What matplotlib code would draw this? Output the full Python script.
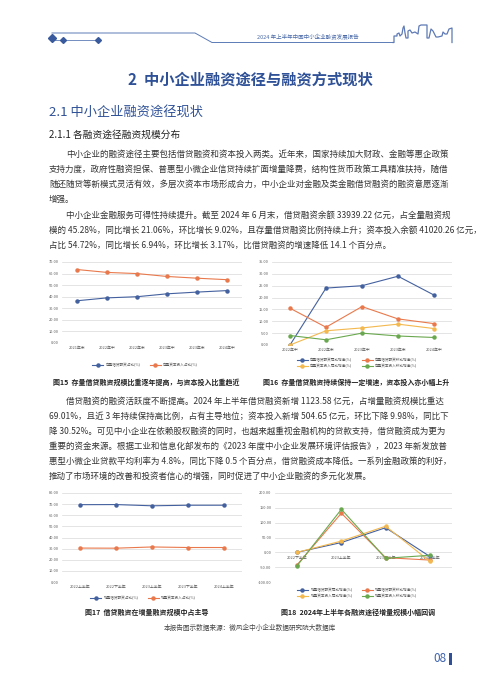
import numpy as np
import matplotlib
matplotlib.use("Agg")
import matplotlib.pyplot as plt
from matplotlib.lines import Line2D
from matplotlib.patches import Rectangle

plt.rcParams['font.family'] = ['Noto Sans CJK SC', 'DejaVu Sans']

# ---- data ----
f15_labels = ['2021年末', '2022年中', '2022年末', '2023年中', '2023年末', '2024年中']
f15_loan = [36.5, 39.0, 40.0, 42.5, 44.0, 45.28]
f15_capital = [63.5, 61.0, 60.0, 57.5, 56.0, 54.72]

f16_labels = ['2022年中', '2022年末', '2023年中', '2023年末', '2024年中']
f16_loan_yoy = [0.0, 24.0, 25.0, 29.0, 21.06]
f16_loan_qoq = [15.5, 7.5, 16.2, 11.0, 9.02]
f16_cap_yoy = [0.0, 6.0, 7.2, 8.8, 6.94]
f16_cap_qoq = [4.0, 2.2, 5.0, 3.8, 3.17]

f17_labels = ['2022上半年', '2022下半年', '2023上半年', '2023下半年', '2024上半年']
f17_loan = [69.5, 69.6, 68.5, 69.0, 69.01]
f17_capital = [30.5, 30.4, 31.5, 31.0, 30.99]

f18_labels = ['2022下半年', '2023上半年', '2023下半年', '2024上半年']
f18_loan_yoy = [0.0, 33.0, 83.0, -14.0]
f18_loan_qoq = [-42.0, 132.0, -18.0, -26.0]
f18_cap_yoy = [0.0, 38.0, 88.0, -30.52]
f18_cap_qoq = [-45.0, 145.0, -20.0, -9.98]

BLUE = '#44619f'
ORANGE = '#e9794c'
YELLOW = '#f3b84e'
GREEN = '#6aa84f'
HEAD = '#2f5197'
TXT = '#333333'

W, H = 500, 690
fig = plt.figure(figsize=(W / 100, H / 100), dpi=100)
fig.patch.set_facecolor('white')


def fx(x):
    return x / W


def fy(y):
    return 1 - y / H


def axes_px(x0, y0, x1, y1):
    return fig.add_axes([fx(x0), fy(y1), (x1 - x0) / W, (y1 - y0) / H])


# ---- header decoration ----
lc = '#5b7bb6'
fig.add_artist(Line2D([fx(52), fx(195), fx(212), fx(393)],
                      [fy(33), fy(33), fy(42.5), fy(42.5)], color=lc, lw=0.7,
                      transform=fig.transFigure))
fig.add_artist(Line2D([fx(52), fx(98)], [fy(40), fy(40)], color=lc, lw=0.6,
                      transform=fig.transFigure))
for x, y, s in [(52, 38, 4.5), (63, 39.5, 3), (98, 39.5, 3)]:
    fig.add_artist(Line2D([fx(x)], [fy(y)], marker='D', ms=s, color='#3a5a9e', lw=0,
                          transform=fig.transFigure))
# skyline outline (decoration)
sky_x = [393, 394, 394, 397, 397, 399, 400, 402, 403, 404, 405, 406, 408, 408, 410, 412, 415,
         418, 419, 421, 421, 427, 427, 429, 431, 433, 436, 438, 442, 443, 445, 447, 449, 452, 452]
sky_y = [42.5, 42.5, 36, 36, 34, 33, 36, 34, 28, 26, 33, 38, 38, 31, 30, 33, 32,
         34, 26, 25, 25, 25, 38, 38, 29, 31, 37, 37, 36, 32, 34, 34, 29, 28, 42.5]
fig.add_artist(Line2D([fx(v) for v in sky_x], [fy(v) for v in sky_y], color='#5f7ab5',
                      lw=0.9, transform=fig.transFigure))
fig.text(fx(308), fy(37), '2024 年上半年中国中小企业融资发展报告', fontsize=4.0,
         color='#4a6aa8', ha='center', va='center')

# ---- headings ----
fig.text(0.5, fy(80), '2  中小企业融资途径与融资方式现状', fontsize=11, weight='bold',
         color=HEAD, ha='center', va='center')
fig.text(fx(49), fy(113), '2.1 中小企业融资途径现状', fontsize=9.5, color=HEAD,
         ha='left', va='center')
fig.text(fx(49), fy(135), '2.1.1 各融资途径融资规模分布', fontsize=7, color='#222222',
         ha='left', va='center')

para1 = [
    '中小企业的融资途径主要包括借贷融资和资本投入两类。近年来，国家持续加大财政、金融等惠企政策',
    '支持力度，政府性融资担保、普惠型小微企业信贷持续扩面增量降费，结构性货币政策工具精准扶持，随借',
    '随还随贷等新模式灵活有效，多层次资本市场形成合力，中小企业对金融及类金融借贷融资的融资意愿逐渐',
    '增强。',
    '中小企业金融服务可得性持续提升。截至 2024 年 6 月末，借贷融资余额 33939.22 亿元，占全量融资规',
    '模的 45.28%，同比增长 21.06%，环比增长 9.02%，且存量借贷融资比例持续上升；资本投入余额 41020.26 亿元，',
    '占比 54.72%，同比增长 6.94%，环比增长 3.17%，比借贷融资的增速降低 14.1 个百分点。',
]
para1_y = [154, 169, 184, 199, 215, 230, 245]
para1_indent = [True, False, False, False, True, False, False]
for line, y, ind in zip(para1, para1_y, para1_indent):
    fig.text(fx(66 if ind else 49), fy(y), line, fontsize=6.1, color=TXT, ha='left', va='center')

para2 = [
    '借贷融资的融资活跃度不断提高。2024 年上半年借贷融资新增 1123.58 亿元，占增量融资规模比重达',
    '69.01%，且近 3 年持续保持高比例，占有主导地位；资本投入新增 504.65 亿元，环比下降 9.98%，同比下',
    '降 30.52%。可见中小企业在依赖股权融资的同时，也越来越重视金融机构的贷款支持，借贷融资成为更为',
    '重要的资金来源。根据工业和信息化部发布的《2023 年度中小企业发展环境评估报告》，2023 年新发放普',
    '惠型小微企业贷款平均利率为 4.8%，同比下降 0.5 个百分点，借贷融资成本降低。一系列金融政策的利好，',
    '推动了市场环境的改善和投资者信心的增强，同时促进了中小企业融资的多元化发展。',
]
para2_y = [401, 416, 431, 446, 461, 476]
for i, (line, y) in enumerate(zip(para2, para2_y)):
    fig.text(fx(66 if i == 0 else 49), fy(y), line, fontsize=6.1, color=TXT, ha='left', va='center')


# ---- charts ----
def style_axes(ax, labels, lo, hi, step):
    ax.set_xlim(-0.5, len(labels) - 0.5)
    ax.set_ylim(lo, hi)
    ax.set_yticks(np.arange(lo, hi + step / 2, step))
    ax.yaxis.set_major_formatter(matplotlib.ticker.FormatStrFormatter('%.2f'))
    ax.set_xticks(range(len(labels)))
    ax.set_xticklabels(labels)
    for s in ax.spines.values():
        s.set_visible(False)
    ax.grid(axis='y', color='#d9d9d9', lw=0.5)
    ax.set_axisbelow(True)
    ax.tick_params(length=0, labelsize=2.8, colors='#595959', pad=2.5)


def plot_series(ax, values, color, label):
    return ax.plot(range(len(values)), values, color=color, lw=0.8, marker='o',
                   ms=2.2, label=label)[0]


def add_legend(ax, handles, cx, cy, ncol):
    ax.legend(handles=handles, loc='center', bbox_to_anchor=(fx(cx), fy(cy)),
              bbox_transform=fig.transFigure, ncol=ncol, frameon=False, fontsize=2.6,
              handlelength=3.2, columnspacing=2.5, labelspacing=0.6, handletextpad=0.6,
              labelcolor='#595959')


def caption(x, y, text):
    fig.text(fx(x), fy(y), text, fontsize=5, weight='bold', color='#222222',
             ha='center', va='center')


# figure 15
ax15 = axes_px(62, 262, 242, 343)
style_axes(ax15, f15_labels, 0, 70, 10)
h1 = plot_series(ax15, f15_loan, BLUE, '存量借贷融资占比(%)')
h2 = plot_series(ax15, f15_capital, ORANGE, '存量资本投入占比(%)')
add_legend(ax15, [h1, h2], 145, 365, 2)
caption(146, 382, '图15  存量借贷融资规模比重逐年提高，与资本投入比重趋近')

# figure 16
ax16 = axes_px(272, 262, 452, 345)
style_axes(ax16, f16_labels, 0, 35, 5)
h1 = plot_series(ax16, f16_loan_yoy, BLUE, '存量借贷融资同比增速(%)')
h2 = plot_series(ax16, f16_loan_qoq, ORANGE, '存量借贷融资环比增速(%)')
h3 = plot_series(ax16, f16_cap_yoy, YELLOW, '存量资本投入同比增速(%)')
h4 = plot_series(ax16, f16_cap_qoq, GREEN, '存量资本投入环比增速(%)')
add_legend(ax16, [h1, h3, h2, h4], 357, 363, 2)
caption(356, 382, '图16  存量借贷融资持续保持一定增速，资本投入亦小幅上升')

# figure 17
ax17 = axes_px(62, 493, 242, 582)
style_axes(ax17, f17_labels, 0, 80, 10)
h1 = plot_series(ax17, f17_loan, BLUE, '增量借贷融资占比(%)')
h2 = plot_series(ax17, f17_capital, ORANGE, '增量资本投入占比(%)')
add_legend(ax17, [h1, h2], 143, 598, 2)
caption(147, 612, '图17  借贷融资在增量融资规模中占主导')

# figure 18
ax18 = axes_px(275, 493, 452, 582)
style_axes(ax18, f18_labels, -100, 200, 50)
ax18.spines['bottom'].set_position(('data', 0))
h1 = plot_series(ax18, f18_loan_yoy, BLUE, '增量借贷融资同比增速(%)')
h2 = plot_series(ax18, f18_loan_qoq, ORANGE, '增量借贷融资环比增速(%)')
h3 = plot_series(ax18, f18_cap_yoy, YELLOW, '增量资本投入同比增速(%)')
h4 = plot_series(ax18, f18_cap_qoq, GREEN, '增量资本投入环比增速(%)')
add_legend(ax18, [h1, h3, h2, h4], 357, 593, 2)
caption(358, 612, '图18  2024年上半年各融资途径增量规模小幅回调')

# ---- footer ----
fig.text(0.5, fy(628), '本报告图示数据来源：微风企中小企业数据研究院大数据库', fontsize=4.8,
         color='#444444', ha='center', va='center')
fig.text(fx(447), fy(659), '08', fontsize=8.5, color='#3f63ad', ha='right', va='center')
fig.add_artist(Rectangle((fx(449), fy(665)), 3 / W, 12 / H, transform=fig.transFigure,
                         color='#2f4f96', lw=0))

fig.savefig('out.png', dpi=100)
